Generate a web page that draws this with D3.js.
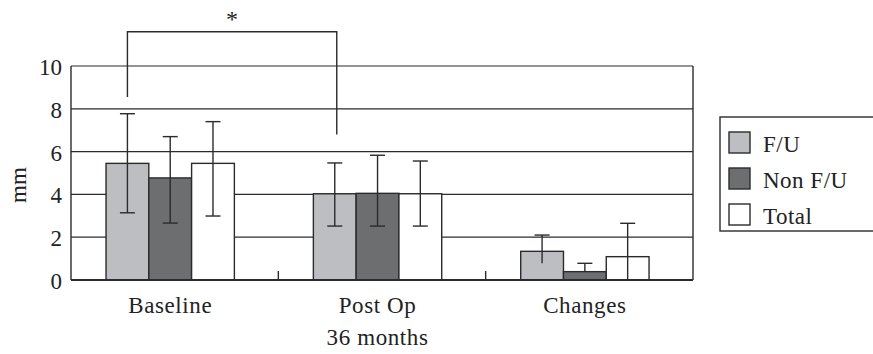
<!DOCTYPE html>
<html><head><meta charset="utf-8">
<script src="https://cdn.jsdelivr.net/npm/d3@7"></script>
<style>
html,body{margin:0;padding:0;background:#fff;}
svg text{font-family:'Liberation Serif','Times New Roman',Times,'DejaVu Serif',serif;}
</style></head>
<body>
<svg id="chart" width="873" height="354"></svg>
<script>
const categories = ["Baseline", "Post Op\n36 months", "Changes"];
const series = ["F/U", "Non F/U", "Total"];
const colors = ["#bdbec1", "#6d6e70", "#ffffff"];
const means = [
  [5.45, 4.77, 5.45],
  [4.03, 4.05, 4.03],
  [1.34, 0.39, 1.09]
];
const errHigh = [
  [7.77, 6.70, 7.40],
  [5.47, 5.83, 5.56],
  [2.10, 0.78, 2.65]
];
const errLow = [
  [3.14, 2.66, 2.99],
  [2.52, 2.52, 2.52],
  [0.78, 0.39, 0.00]
];
const lowCap = [true, true, false];
const yTicks = [0, 2, 4, 6, 8, 10];
const bracket = {from: 0, to: 1, series: 0, leftEnd: 8.55, rightEnd: 6.8, top: 11.6, label: "*"};

const FONT = "'Liberation Serif','Times New Roman',Times,'DejaVu Serif',serif";
const svg = d3.select("#chart");
const M = {left: 71, right: 180, top: 66, bottom: 74};
const W = 873, H = 354;
const x0 = d3.scaleBand().domain(d3.range(categories.length)).range([M.left, W - M.right]).paddingInner(0).paddingOuter(0);
const bw = x0.bandwidth();
const x1 = d3.scaleBand().domain(d3.range(series.length)).range([bw * 0.169, bw * 0.788]).padding(0);
const y = d3.scaleLinear().domain([0, 10]).range([H - M.bottom, M.top]);
const ink = "#2b2b2b";

// gridlines
svg.append("g").selectAll("line").data(yTicks.filter(d => d > 0)).join("line")
  .attr("x1", M.left).attr("x2", W - M.right)
  .attr("y1", d => y(d)).attr("y2", d => y(d))
  .attr("stroke", ink).attr("stroke-width", 1.2);

// bars
const groups = svg.append("g").selectAll("g").data(categories).join("g")
  .attr("transform", (d, i) => `translate(${x0(i)},0)`);
groups.selectAll("rect").data((d, i) => means[i].map((v, j) => ({v, j}))).join("rect")
  .attr("x", d => x1(d.j)).attr("width", x1.bandwidth())
  .attr("y", d => y(d.v)).attr("height", d => y(0) - y(d.v))
  .attr("fill", d => colors[d.j]).attr("stroke", ink).attr("stroke-width", 1.4);

// error bars
const capW = 15;
groups.each(function(c, i) {
  const g = d3.select(this);
  series.forEach((s, j) => {
    const cx = x1(j) + x1.bandwidth() / 2;
    g.append("line").attr("x1", cx).attr("x2", cx)
      .attr("y1", y(errLow[i][j])).attr("y2", y(errHigh[i][j]))
      .attr("stroke", ink).attr("stroke-width", 1.4);
    g.append("line").attr("x1", cx - capW / 2).attr("x2", cx + capW / 2)
      .attr("y1", y(errHigh[i][j])).attr("y2", y(errHigh[i][j]))
      .attr("stroke", ink).attr("stroke-width", 1.4);
    if (lowCap[i]) {
      g.append("line").attr("x1", cx - capW / 2).attr("x2", cx + capW / 2)
        .attr("y1", y(errLow[i][j])).attr("y2", y(errLow[i][j]))
        .attr("stroke", ink).attr("stroke-width", 1.4);
    }
  });
});

// axes frame
svg.append("line").attr("x1", M.left).attr("x2", M.left).attr("y1", y(10)).attr("y2", y(0))
  .attr("stroke", ink).attr("stroke-width", 1.4);
svg.append("line").attr("x1", W - M.right).attr("x2", W - M.right).attr("y1", y(10)).attr("y2", y(0))
  .attr("stroke", ink).attr("stroke-width", 1.4);
svg.append("line").attr("x1", M.left).attr("x2", W - M.right).attr("y1", y(0)).attr("y2", y(0))
  .attr("stroke", ink).attr("stroke-width", 2);
svg.append("g").selectAll("line").data(d3.range(1, categories.length)).join("line")
  .attr("x1", i => x0(i)).attr("x2", i => x0(i))
  .attr("y1", y(0)).attr("y2", y(0) - 9)
  .attr("stroke", ink).attr("stroke-width", 1.4);

// y tick labels
svg.append("g").selectAll("text").data(yTicks).join("text")
  .attr("x", M.left - 9).attr("y", d => y(d) + 9)
  .attr("text-anchor", "end").attr("font-size", 23).attr("font-family", FONT).attr("fill", "#222")
  .text(d => d);

// y title
svg.append("text").attr("transform", `translate(26,185) rotate(-90)`)
  .attr("text-anchor", "middle").attr("font-size", 23).attr("font-family", FONT).attr("fill", "#222").text("mm");

// x labels
categories.forEach((c, i) => {
  const cx = x0(i) + (x1.range()[0] + x1.range()[1]) / 2;
  const t = svg.append("text").attr("x", cx).attr("y", 313)
    .attr("text-anchor", "middle").attr("font-size", 23).attr("font-family", FONT).attr("fill", "#222")
    .attr("letter-spacing", 0.6);
  c.split("\n").forEach((ln, k) => {
    t.append("tspan").attr("x", cx).attr("dy", k === 0 ? 0 : 32).text(ln);
  });
});

// significance bracket
const bx1 = x0(bracket.from) + x1(bracket.series) + x1.bandwidth() / 2;
const bx2 = x0(bracket.to) + x1(bracket.series) + x1.bandwidth() / 2 + 2;
svg.append("path")
  .attr("d", `M${bx1},${y(bracket.leftEnd)}V${y(bracket.top)}H${bx2}V${y(bracket.rightEnd)}`)
  .attr("fill", "none").attr("stroke", ink).attr("stroke-width", 1.4);
svg.append("text").attr("x", (bx1 + bx2) / 2).attr("y", 27)
  .attr("text-anchor", "middle").attr("font-size", 24).attr("font-family", FONT).attr("fill", "#222").text(bracket.label);

// legend
const lg = svg.append("g");
lg.append("rect").attr("x", 720).attr("y", 117).attr("width", 170).attr("height", 114)
  .attr("fill", "#fff").attr("stroke", ink).attr("stroke-width", 1.4);
series.forEach((s, j) => {
  const yy = 132 + j * 36;
  lg.append("rect").attr("x", 729).attr("y", yy).attr("width", 21).attr("height", 21)
    .attr("fill", colors[j]).attr("stroke", ink).attr("stroke-width", 1.4);
  lg.append("text").attr("x", 763).attr("y", yy + 20).attr("font-size", 23).attr("font-family", FONT)
    .attr("fill", "#222").attr("letter-spacing", 0.5).text(s);
});
</script>
</body></html>
